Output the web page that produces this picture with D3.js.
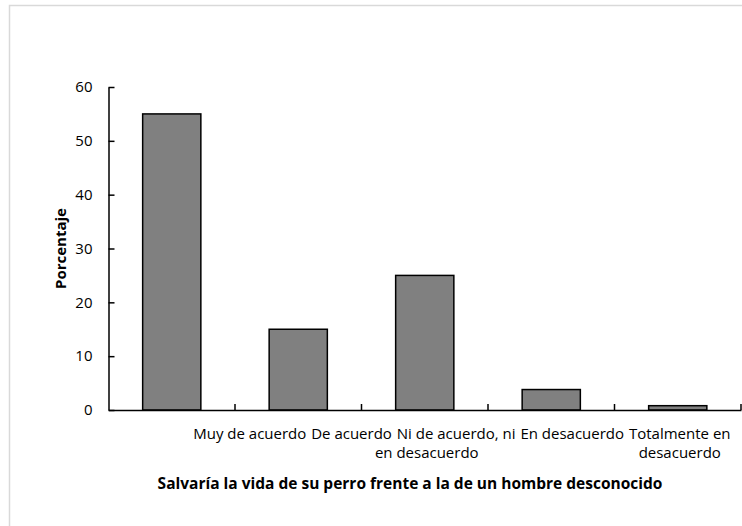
<!DOCTYPE html>
<html>
<head>
<meta charset="utf-8">
<script src="https://cdn.jsdelivr.net/npm/d3@7"></script>
<style>
  body { margin: 0; background: #fff; }
  text { font-family: "Open Sans", Lato, sans-serif; fill: #000; }
</style>
</head>
<body>
<div id="chart"></div>
<script>
const categories = ["Muy de acuerdo", "De acuerdo", "Ni de acuerdo, ni en desacuerdo", "En desacuerdo", "Totalmente en desacuerdo"];
const categoryLines = [["Muy de acuerdo"], ["De acuerdo"], ["Ni de acuerdo, ni", "en desacuerdo"], ["En desacuerdo"], ["Totalmente en", "desacuerdo"]];
const percentages = [55, 15, 25, 3.8, 0.8];
const yTicks = [0, 10, 20, 30, 40, 50, 60];
const yTitle = "Porcentaje";
const xTitle = "Salvaría la vida de su perro frente a la de un hombre desconocido";

const width = 742;
const height = 526;
const fontSize = 15;
const titleSize = 15.5;

const svg = d3.select("#chart")
              .append("svg")
              .attr("width", width)
              .attr("height", height);

// light frame round the chart area
svg.append("rect")
   .attr("x", 9.5)
   .attr("y", 5.5)
   .attr("width", width + 10)
   .attr("height", height + 10)
   .attr("fill", "none")
   .attr("stroke", "#d9d9d9")
   .attr("stroke-width", 1.5);

const x = d3.scaleBand()
            .domain(categories)
            .range([108.5, 741])
            .padding(0);

const y = d3.scaleLinear()
            .domain([0, 60])
            .range([410, 87]);

const barWidth = x.bandwidth() * 0.46;

svg.selectAll("rect.bar")
   .data(percentages)
   .enter()
   .append("rect")
   .attr("class", "bar")
   .attr("x", function (d, i) {
       return x(categories[i]) + (x.bandwidth() - barWidth) / 2;
   })
   .attr("y", function (d) {
       return y(d);
   })
   .attr("width", barWidth)
   .attr("height", function (d) {
       return y(0) - y(d);
   })
   .attr("fill", "#808080")
   .attr("stroke", "#000")
   .attr("stroke-width", 1.5);

// y axis, ticks pointing inward
const yAxis = svg.append("g")
                 .attr("transform", "translate(" + x.range()[0] + ",0)")
                 .call(d3.axisLeft(y).tickValues(yTicks).tickSizeInner(-6).tickSizeOuter(0).tickPadding(16));
yAxis.select(".domain").attr("stroke", "#000").attr("stroke-width", 1.5);
yAxis.selectAll(".tick line").attr("stroke", "#000").attr("stroke-width", 1.5);
yAxis.selectAll(".tick text")
     .style("font-family", "'Open Sans', Lato, sans-serif")
     .style("font-size", fontSize + "px")
     .attr("fill", "#000");

// x axis line with tick marks at category boundaries
const xAxis = svg.append("g")
                 .attr("transform", "translate(0," + y(0) + ")")
                 .call(d3.axisBottom(x).tickSize(0).tickFormat(""));
xAxis.select(".domain").attr("stroke", "#000").attr("stroke-width", 1.5);

const boundaries = categories.map(function (c) {
    return x(c) + x.bandwidth();
});
xAxis.selectAll("line.boundary")
     .data(boundaries)
     .enter()
     .append("line")
     .attr("class", "boundary")
     .attr("x1", function (d) { return d; })
     .attr("x2", function (d) { return d; })
     .attr("y1", 0)
     .attr("y2", -6)
     .attr("stroke", "#000")
     .attr("stroke-width", 1.5);

// category labels: first lines run together from the right, as in the spreadsheet
const labelGroup = svg.append("g").attr("class", "xlabels");
const firstLines = labelGroup.selectAll("text.first")
                             .data(categoryLines)
                             .enter()
                             .append("text")
                             .attr("class", "first")
                             .style("font-size", fontSize + "px")
                             .attr("y", 439)
                             .text(function (d) { return d[0]; });

const spaceProbe = labelGroup.append("text").style("font-size", fontSize + "px").text("a a");
const spaceProbe2 = labelGroup.append("text").style("font-size", fontSize + "px").text("aa");
const spaceWidth = spaceProbe.node().getComputedTextLength() - spaceProbe2.node().getComputedTextLength() + 1;
spaceProbe.remove();
spaceProbe2.remove();

const widths = firstLines.nodes().map(function (n) { return n.getComputedTextLength(); });
const starts = new Array(categories.length);
let nextStart = null;
for (let i = categories.length - 1; i >= 0; i--) {
    const center = x(categories[i]) + x.bandwidth() / 2 + 2;
    const end = nextStart === null ? center + widths[i] / 2 : nextStart - spaceWidth;
    starts[i] = end - widths[i];
    nextStart = starts[i];
}
firstLines.attr("x", function (d, i) { return starts[i]; });

labelGroup.selectAll("text.second")
          .data(categoryLines)
          .enter()
          .filter(function (d) { return d.length > 1; })
          .append("text")
          .attr("class", "second")
          .style("font-size", fontSize + "px")
          .style("text-anchor", "middle")
          .attr("x", function (d) {
              return x(categories[categoryLines.indexOf(d)]) + x.bandwidth() / 2 + 2;
          })
          .attr("y", 458)
          .text(function (d) { return d[1]; });

// axis titles
svg.append("text")
   .attr("transform", "translate(66," + (y(30)) + ")rotate(-90)")
   .style("text-anchor", "middle")
   .style("font-size", fontSize + "px")
   .style("font-weight", "bold")
   .text(yTitle);

svg.append("text")
   .attr("x", 410)
   .attr("y", 489)
   .style("text-anchor", "middle")
   .style("font-size", titleSize + "px")
   .style("font-weight", "bold")
   .text(xTitle);
</script>
</body>
</html>
